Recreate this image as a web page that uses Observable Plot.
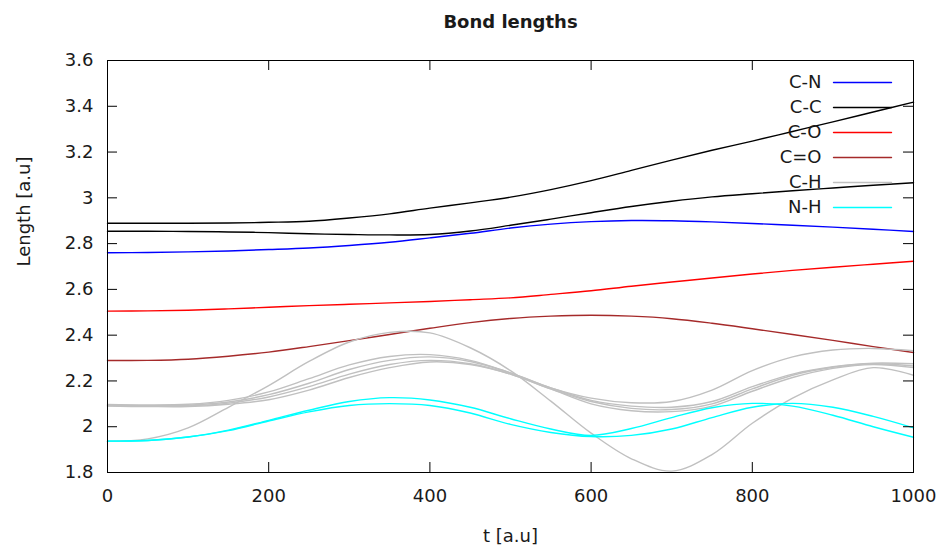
<!DOCTYPE html>
<html>
<head>
<meta charset="utf-8">
<script src="https://cdn.jsdelivr.net/npm/d3@7"></script>
<script src="https://cdn.jsdelivr.net/npm/@observablehq/plot@0.6"></script>
<style>
  html, body { margin: 0; padding: 0; background: #fff; }
</style>
</head>
<body>
<div id="chart"></div>
<script>
// ---- data ----
const T = [0, 50, 100, 150, 200, 250, 300, 350, 400, 450, 500, 550, 600, 650, 700, 750, 800, 850, 900, 950, 1000];

const cn  = [2.760, 2.761, 2.764, 2.768, 2.774, 2.781, 2.792, 2.806, 2.825, 2.845, 2.868, 2.885, 2.896, 2.901, 2.900, 2.895, 2.888, 2.880, 2.872, 2.863, 2.853];
const cc1 = [2.889, 2.889, 2.889, 2.890, 2.893, 2.898, 2.912, 2.930, 2.955, 2.978, 3.003, 3.036, 3.075, 3.120, 3.165, 3.208, 3.248, 3.290, 3.332, 3.375, 3.418];
const cc2 = [2.854, 2.854, 2.853, 2.851, 2.848, 2.843, 2.840, 2.838, 2.840, 2.855, 2.880, 2.907, 2.935, 2.962, 2.985, 3.004, 3.018, 3.031, 3.043, 3.055, 3.066];
const co  = [2.505, 2.506, 2.509, 2.515, 2.522, 2.529, 2.535, 2.541, 2.547, 2.555, 2.563, 2.578, 2.594, 2.614, 2.632, 2.650, 2.667, 2.683, 2.697, 2.710, 2.723];
const cdo = [2.289, 2.290, 2.295, 2.308, 2.326, 2.350, 2.376, 2.403, 2.430, 2.455, 2.473, 2.483, 2.487, 2.483, 2.472, 2.452, 2.428, 2.403, 2.377, 2.350, 2.324];
const ch1 = [2.097, 2.095, 2.098, 2.115, 2.152, 2.210, 2.270, 2.307, 2.315, 2.290, 2.235, 2.170, 2.125, 2.105, 2.110, 2.160, 2.245, 2.305, 2.335, 2.342, 2.332];
const ch2 = [2.094, 2.092, 2.094, 2.108, 2.140, 2.190, 2.250, 2.290, 2.305, 2.285, 2.235, 2.170, 2.115, 2.090, 2.085, 2.110, 2.175, 2.230, 2.262, 2.278, 2.275];
const ch3 = [2.092, 2.090, 2.091, 2.103, 2.130, 2.175, 2.230, 2.272, 2.290, 2.275, 2.230, 2.165, 2.110, 2.080, 2.075, 2.100, 2.165, 2.225, 2.260, 2.275, 2.265];
const ch4 = [2.090, 2.088, 2.088, 2.098, 2.118, 2.160, 2.215, 2.258, 2.283, 2.272, 2.230, 2.165, 2.100, 2.070, 2.066, 2.090, 2.155, 2.215, 2.255, 2.272, 2.258];
const ch5 = [1.937, 1.947, 1.995, 2.085, 2.180, 2.285, 2.370, 2.412, 2.410, 2.345, 2.245, 2.112, 1.972, 1.860, 1.806, 1.878, 2.015, 2.125, 2.205, 2.258, 2.225];
const nh1 = [1.937, 1.940, 1.955, 1.985, 2.028, 2.072, 2.110, 2.127, 2.117, 2.085, 2.035, 1.990, 1.962, 1.992, 2.040, 2.083, 2.102, 2.090, 2.050, 2.000, 1.954];
const nh2 = [1.937, 1.940, 1.955, 1.983, 2.025, 2.065, 2.093, 2.101, 2.093, 2.060, 2.010, 1.975, 1.957, 1.962, 1.990, 2.040, 2.085, 2.102, 2.085, 2.045, 1.995];

const bonds  = ["C-N", "C-C", "C-O", "C=O", "C-H", "N-H"];
const colors = ["#0000ff", "#000000", "#ff0000", "#a52a2a", "#c0c0c0", "#00ffff"];

const series = [
  {bond: "C-N", values: cn},
  {bond: "C-C", values: cc1},
  {bond: "C-C", values: cc2},
  {bond: "C-O", values: co},
  {bond: "C=O", values: cdo},
  {bond: "C-H", values: ch1},
  {bond: "C-H", values: ch2},
  {bond: "C-H", values: ch3},
  {bond: "C-H", values: ch4},
  {bond: "C-H", values: ch5},
  {bond: "N-H", values: nh1},
  {bond: "N-H", values: nh2}
];

const xTicks = [0, 200, 400, 600, 800, 1000];
const yTicks = [1.8, 2, 2.2, 2.4, 2.6, 2.8, 3, 3.2, 3.4, 3.6];

const title = "Bond lengths";
const xLabel = "t [a.u]";
const yLabel = "Length [a.u]";

// ---- layout ----
const W = 943, H = 547;
const mL = 107, mR = 30, mT = 60, mB = 75;
const plotW = W - mL - mR, plotH = H - mT - mB;
const tick = 10;

const rows = series.flatMap((s, k) => T.map((t, i) => ({t, v: s.values[i], bond: s.bond, id: k})));

const lineShape = {draw(context, l) { context.moveTo(0, 0); context.lineTo(0, -l); }};

const legendMarks = bonds.flatMap((b, i) => [
  Plot.text([b], {frameAnchor: "top-right", text: d => d, dx: -92, dy: 22 + 25 * i, textAnchor: "end", lineAnchor: "middle", fill: "#1a1a1a"}),
  Plot.vector([b], {frameAnchor: "top-right", dx: -80, dy: 22 + 25 * i, rotate: 90, length: 58, anchor: "start", shape: lineShape, stroke: colors[i], strokeWidth: 1.4})
]);

const chart = Plot.plot({
  width: W, height: H,
  marginLeft: mL, marginRight: mR, marginTop: mT, marginBottom: mB,
  style: {fontFamily: "'DejaVu Sans', sans-serif", fontSize: "18px", color: "#1a1a1a", background: "#fff"},
  x: {domain: [0, 1000]},
  y: {domain: [1.8, 3.6]},
  color: {domain: bonds, range: colors},
  marks: [
    Plot.axisX(xTicks, {tickSize: 0, tickPadding: 17, tickFormat: d => String(d), label: null}),
    Plot.axisY(yTicks, {tickSize: 0, tickPadding: 14, tickFormat: d => String(d), label: null}),
    Plot.line(rows, {x: "t", y: "v", z: "id", stroke: "bond", strokeWidth: 1.4, curve: "catmull-rom"}),
    Plot.tickX(xTicks, {x: d => d, insetTop: plotH - tick, stroke: "#000"}),
    Plot.tickX(xTicks, {x: d => d, insetBottom: plotH - tick, stroke: "#000"}),
    Plot.tickY(yTicks, {y: d => d, insetRight: plotW - tick, stroke: "#000"}),
    Plot.tickY(yTicks, {y: d => d, insetLeft: plotW - tick, stroke: "#000"}),
    Plot.frame({stroke: "#000", strokeWidth: 1}),
    ...legendMarks,
    Plot.text([title], {frameAnchor: "top", text: d => d, dy: -38, lineAnchor: "middle", fontWeight: "bold", fontSize: 18}),
    Plot.text([xLabel], {frameAnchor: "bottom", text: d => d, dy: 64, lineAnchor: "middle"}),
    Plot.text([yLabel], {frameAnchor: "left", text: d => d, dx: -83, rotate: -90, lineAnchor: "middle"})
  ]
});

document.getElementById("chart").appendChild(chart);
</script>
</body>
</html>
